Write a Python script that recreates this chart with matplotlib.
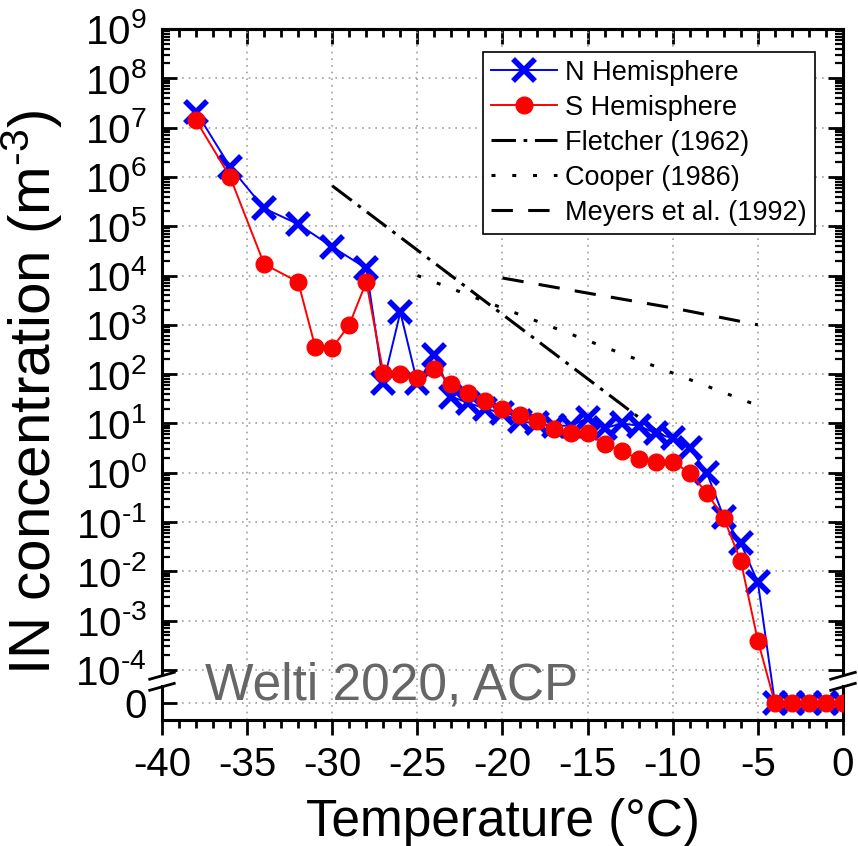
"""
IN concentration vs temperature (Welti 2020, ACP) - recreation
"""
import matplotlib
matplotlib.use('Agg')
import matplotlib.pyplot as plt
from matplotlib.ticker import FixedLocator, FixedFormatter, MultipleLocator
from matplotlib.patches import Rectangle

plt.rcParams['font.family'] = ['Liberation Sans', 'DejaVu Sans']
plt.rcParams['mathtext.fontset'] = 'custom'
plt.rcParams['mathtext.rm'] = 'Liberation Sans'
plt.rcParams['axes.unicode_minus'] = False

# N hemisphere
temp_n = [-38, -36, -34, -32, -30, -28, -27, -26, -25, -24, -23, -22, -21, -20,
          -19, -18, -17, -16, -15, -14, -13, -12, -11, -10, -9, -8, -7, -6, -5,
          -4, -3, -2, -1, 0]
conc_n = [2.1e7, 1.6e6, 2.3e5, 1.1e5, 3.8e4, 1.4e4, 66, 1.8e3, 66, 245, 35, 26,
          20, 16, 11, 10, 9, 9, 12.6, 8, 10, 9, 6.3, 5, 3.2, 1.0, 0.125, 0.037,
          0.006, 0, 0, 0, 0, 0]

# S hemisphere
temp_s = [-38, -36, -34, -32, -31, -30, -29, -28, -27, -26, -25, -24, -23, -22,
          -21, -20, -19, -18, -17, -16, -15, -14, -13, -12, -11, -10, -9, -8,
          -7, -6, -5, -4, -3, -2, -1, 0]
conc_s = [1.4e7, 1.0e6, 1.7e4, 7.4e3, 355, 340, 1.0e3, 7.4e3, 105, 100, 83, 126,
          63, 42, 28, 20, 15, 11, 7.8, 6.3, 6.3, 3.8, 2.75, 1.9, 1.66, 1.66, 1.0,
          0.39, 0.12, 0.016, 3.9e-4, 0, 0, 0, 0, 0]

# parameterisations
temp_fletcher = [-30, -10]
conc_fletcher = [6.6e5, 4.0]
temp_cooper = [-25, -5]
conc_cooper = [1.0e4, 23]
temp_meyers = [-20, -15, -10, -5]
conc_meyers = [8.9e3, 4.4e3, 2.2e3, 1.0e3]

y_exps = list(range(-4, 10))


def sup_label(n):
    # hyphen instead of the math minus, as in the original figure
    s = str(n).replace('-', r'\text{-}')
    return r'$\mathregular{10^{%s}}$' % s


fig = plt.figure(figsize=(8.58, 8.46), dpi=100)
ax = fig.add_axes([162/858, 1 - 720/846, 681/858, 691/846])

ax.plot(temp_n, conc_n, color='blue', lw=1.4, marker='x', ms=16, mew=4,
        label='N Hemisphere', zorder=3)
ax.plot(temp_s, conc_s, color='red', lw=1.4, marker='o', ms=12, mec='red',
        label='S Hemisphere', zorder=4)
ax.plot(temp_fletcher, conc_fletcher, color='black', lw=2.2,
        linestyle=(0, (8, 2.5, 1.2, 2.5)), label='Fletcher (1962)', zorder=2.6)
ax.plot(temp_cooper, conc_cooper, color='black', lw=2.2,
        linestyle=(0, (1.3, 5.5)), label='Cooper (1986)', zorder=2.6)
ax.plot(temp_meyers, conc_meyers, color='black', lw=2.2,
        linestyle=(0, (7, 5)), label='Meyers et al. (1992)', zorder=2.6)

# y axis: log part with a short linear part holding the zero
ax.set_yscale('symlog', linthresh=1e-4, linscale=0.603)
ax.set_ylim(-5.15e-5, 1e9)
ax.set_xlim(-40, 0)

ax.yaxis.set_major_locator(FixedLocator([0] + [10.0**n for n in y_exps]))
ax.yaxis.set_major_formatter(FixedFormatter(
    [r'$\mathregular{0}$'] + [sup_label(n) for n in y_exps]))
ax.yaxis.set_minor_locator(FixedLocator(
    [k * 10.0**n for n in range(-4, 9) for k in range(2, 10)]))
ax.xaxis.set_major_locator(MultipleLocator(5))
ax.xaxis.set_minor_locator(MultipleLocator(1))

ax.tick_params(axis='y', which='both', direction='in', left=True, right=True,
               width=2, labelsize=29, pad=11)
ax.tick_params(axis='y', which='major', length=11)
ax.tick_params(axis='y', which='minor', length=6, width=1.6)
ax.tick_params(axis='x', which='both', direction='out', top=False, width=2,
               labelsize=29, pad=8)
ax.tick_params(axis='x', which='major', length=11)
ax.tick_params(axis='x', which='minor', length=6)

top = ax.secondary_xaxis('top')
top.xaxis.set_major_locator(MultipleLocator(5))
top.xaxis.set_minor_locator(MultipleLocator(1))
top.tick_params(which='both', direction='in', labeltop=False, width=2)
top.tick_params(which='major', length=11)
top.tick_params(which='minor', length=6)
top.spines['top'].set_linewidth(2.2)

for s in ax.spines.values():
    s.set_linewidth(2.2)

ax.grid(True, which='major', linestyle=(0, (1, 3)), color='#a0a0a0', lw=1.2)
ax.set_axisbelow(True)

# axis break marks on both sides
for xs in (0.0, 1.0):
    ax.add_patch(Rectangle((xs - 0.006, 0.050), 0.012, 0.013,
                           transform=ax.transAxes, facecolor='white',
                           edgecolor='none', clip_on=False, zorder=5))
    for yc in (0.064, 0.048):
        ax.plot([xs - 0.018, xs + 0.018], [yc - 0.005, yc + 0.005],
                transform=ax.transAxes, color='black', lw=2,
                clip_on=False, zorder=6)

ax.text(0.063, 0.029, 'Welti 2020, ACP', transform=ax.transAxes, fontsize=37,
        color='#666666', ha='left', va='baseline', zorder=7)

ax.set_xlabel('Temperature (°C)', fontsize=37, labelpad=10)
ax.set_ylabel(r'IN concentration (m$\mathregular{^{\text{-}3}}$)', fontsize=42)
ax.yaxis.set_label_coords(-0.142, 0.475)

leg = ax.legend(loc='upper right', bbox_to_anchor=(0.959, 0.967),
                borderaxespad=0, fancybox=False, edgecolor='black',
                framealpha=1, fontsize=19.5, handlelength=2.45,
                handletextpad=0.3, labelspacing=0.33, borderpad=0.3,
                markerscale=1.0)
leg.get_frame().set_linewidth(1.2)

fig.savefig('out.png', dpi=100)
